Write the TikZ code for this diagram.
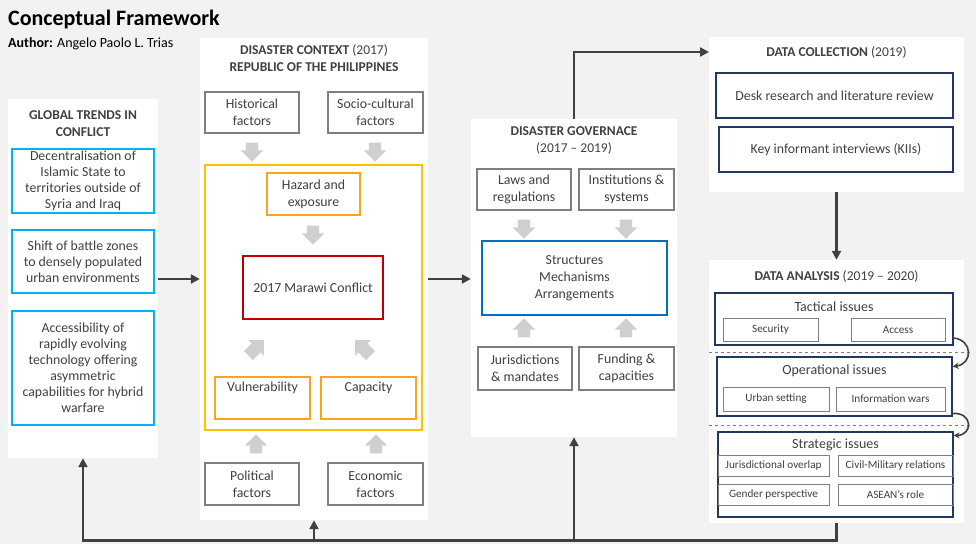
\documentclass[tikz,border=0pt]{standalone}
\usepackage{fontspec}
\setmainfont{Carlito}
\usepackage{tikz}
\usetikzlibrary{arrows.meta, positioning, shapes.arrows}
\definecolor{bgfill}{HTML}{F2F2F2}
\definecolor{txt}{HTML}{404040}
\definecolor{cyanline}{HTML}{00B0F0}
\definecolor{greyline}{HTML}{7F7F7F}
\definecolor{yelline}{HTML}{FFC000}
\definecolor{orline}{HTML}{FFA31A}
\definecolor{redline}{HTML}{C00000}
\definecolor{blueline}{HTML}{0070C0}
\definecolor{navyline}{HTML}{1F3864}
\definecolor{blkarr}{HTML}{CFCFCF}
\definecolor{flowline}{HTML}{404040}
\tikzset{
  panel/.style  = {fill=white, draw=none, inner sep=0pt},
  ttl/.style    = {text=txt, align=center, inner sep=0pt, font=\fontsize{13.5}{17}\selectfont},
  gtbox/.style  = {draw=cyanline, line width=1.2pt, text=txt, align=center, inner sep=0pt,
                   minimum width=142pt, font=\fontsize{13.8}{16}\selectfont},
  fbox/.style   = {draw=greyline, line width=1.2pt, text=txt, align=center, inner sep=0pt,
                   minimum width=94pt, minimum height=41pt, font=\fontsize{13.8}{17}\selectfont},
  obox/.style   = {fbox, draw=orline},
  gbox/.style   = {draw=#1, line width=1.2pt, text=txt, align=center, inner sep=0pt,
                   font=\fontsize{13.8}{17}\selectfont},
  sbox/.style   = {draw=greyline, line width=1pt, text=txt, align=center, inner sep=0pt,
                   font=\fontsize{11.2}{13}\selectfont},
  sub/.style    = {text=txt, inner sep=0pt, font=\fontsize{14}{15}\selectfont},
  barrow/.style = {single arrow, fill=blkarr, draw=none, inner xsep=0pt, inner ysep=6pt,
                   minimum height=19pt, single arrow head extend=5pt, single arrow head indent=0pt},
  flow/.style   = {-{Triangle[length=9pt, width=9pt]}, draw=flowline, line width=2.6pt},
  curv/.style   = {-{Stealth[length=6pt, width=6pt]}, draw=flowline, line width=1.6pt},
  sep/.style    = {draw=greyline, dashed, line width=0.8pt}
}

\begin{document}
\begin{tikzpicture}[x=1pt, y=-1pt]
  \useasboundingbox[fill=bgfill] (0,0) rectangle (976,544);

  \node[anchor=west, inner sep=0pt, font=\fontsize{22}{26}\selectfont\bfseries] (title) at (8,20) {Conceptual Framework};
  \node[anchor=west, inner sep=0pt, font=\fontsize{14}{16}\selectfont] (author) at (8,44) {\textbf{Author:} Angelo Paolo L. Trias};

  % global trends
  \node[panel, minimum width=150pt, minimum height=359pt] (gtp) at (83,278.5) {};
  \node[ttl] (gtt) at (83,123.5) {\textbf{GLOBAL TRENDS IN}\\\textbf{CONFLICT}};
  \node[gtbox, minimum height=64pt] (g1) at (83,181) {Decentralisation of\\Islamic State to\\territories outside of\\Syria and Iraq};
  \node[gtbox, minimum height=63pt] (g2) at (83,261.5) {Shift of battle zones\\to densely populated\\urban environments};
  \node[gtbox, minimum height=114pt] (g3) at (83,368) {Accessibility of\\rapidly evolving\\technology offering\\asymmetric\\capabilities for hybrid\\warfare};

  % disaster context
  \node[panel, minimum width=228pt, minimum height=482pt] (ctx) at (314,279) {};
  \node[ttl] (ctxt) at (314,58.5) {\textbf{DISASTER CONTEXT} (2017)\\\textbf{REPUBLIC OF THE PHILIPPINES}};
  \node[fbox] (hist) at (252,112.5) {Historical\\factors};
  \node[fbox, minimum width=95pt] (soc) at (375.5,112.5) {Socio-cultural\\factors};
  \node[barrow, rotate=-90] (ah1) at (252,149) {};
  \node[barrow, rotate=-90] (ah2) at (375,149) {};
  \node[draw=yelline, line width=1.2pt, minimum width=217pt, minimum height=265pt] (core) at (313.5,297.5) {};
  \node[obox, minimum width=93pt, minimum height=42pt] (haz) at (313.5,194) {Hazard and\\exposure};
  \node[barrow, rotate=-90] (ah3) at (313,232) {};
  \node[gbox=redline, minimum width=140pt, minimum height=63pt] (mar) at (313,287.5) {2017 Marawi Conflict};
  \node[barrow, rotate=45, minimum height=22pt] (ad1) at (254,350) {};
  \node[barrow, rotate=135, minimum height=22pt] (ad2) at (365,350) {};
  \node[obox, minimum width=95pt, minimum height=42pt] (vul) at (262.5,398) {Vulnerability\\\strut};
  \node[obox, minimum width=95pt, minimum height=42pt] (cap) at (368.5,398) {Capacity\\\strut};
  \node[barrow, rotate=90] (au1) at (256,447) {};
  \node[barrow, rotate=90] (au2) at (376,447) {};
  \node[fbox, minimum height=42pt] (pol) at (252,484) {Political\\factors};
  \node[fbox, minimum width=95pt, minimum height=42pt] (eco) at (375.5,484) {Economic\\factors};

  % disaster governance
  \node[panel, minimum width=206pt, minimum height=318pt] (gov) at (574,278) {};
  \node[ttl] (govt) at (574,140.5) {\textbf{DISASTER GOVERNACE}\\(2017 -- 2019)};
  \node[fbox] (laws) at (524,189.5) {Laws and\\regulations};
  \node[fbox, minimum width=95pt] (inst) at (626.5,189.5) {Institutions \&\\systems};
  \node[barrow, rotate=-90] (ag1) at (524,226) {};
  \node[barrow, rotate=-90] (ag2) at (626,226) {};
  \node[gbox=blueline, minimum width=185pt, minimum height=74pt] (stru) at (574.5,278) {Structures\\Mechanisms\\Arrangements};
  \node[barrow, rotate=90] (ag3) at (524,331) {};
  \node[barrow, rotate=90] (ag4) at (626,331) {};
  \node[fbox, minimum height=43pt] (jur) at (525,368.5) {Jurisdictions\\\& mandates};
  \node[fbox, minimum width=95pt, minimum height=43pt] (fund) at (626.5,368.5) {Funding \&\\capacities};

  % data collection
  \node[panel, minimum width=255pt, minimum height=155pt] (dc) at (836.5,114.5) {};
  \node[ttl] (dct) at (836.5,52) {\textbf{DATA COLLECTION} (2019)};
  \node[gbox=navyline, minimum width=237pt, minimum height=45pt] (desk) at (834.5,95.5) {Desk research and literature review};
  \node[gbox=navyline, minimum width=234pt, minimum height=45pt] (kii) at (836,149.5) {Key informant interviews (KIIs)};
  \coordinate (dcin) at (709,52);

  % data analysis
  \node[panel, minimum width=255pt, minimum height=263pt] (da) at (836.5,391.5) {};
  \node[ttl] (dat) at (836.5,276) {\textbf{DATA ANALYSIS} (2019 -- 2020)};
  \node[gbox=navyline, minimum width=238pt, minimum height=52pt] (tac) at (834,319) {};
  \node[sub] (tact) at (834,307) {Tactical issues};
  \node[sbox, minimum width=95pt, minimum height=23pt] (secu) at (770.5,329.5) {Security};
  \node[sbox, minimum width=94pt, minimum height=23pt] (acce) at (898,329.5) {Access};
  \node[gbox=navyline, minimum width=235pt, minimum height=59pt] (op) at (834.5,386.5) {};
  \node[sub] (opt) at (834.5,371) {Operational issues};
  \node[sbox, minimum width=106pt, minimum height=24pt] (urb) at (776,399) {Urban setting};
  \node[sbox, minimum width=109pt, minimum height=24pt] (info) at (890.5,399) {Information wars};
  \node[gbox=navyline, minimum width=235pt, minimum height=85pt] (str) at (835.5,474.5) {};
  \node[sub] (strt) at (835.5,445) {Strategic issues};
  \node[sbox, minimum width=111pt, minimum height=21pt] (jov) at (773.5,465.5) {Jurisdictional overlap};
  \node[sbox, minimum width=115pt, minimum height=21pt] (civ) at (895.5,465.5) {Civil-Military relations};
  \node[sbox, minimum width=111pt, minimum height=21pt] (gen) at (773.5,494.5) {Gender perspective};
  \node[sbox, minimum width=115pt, minimum height=21pt] (ase) at (895.5,494.5) {ASEAN’s role};
  \draw[sep] (da.west |- 0,352) -- (970,352);
  \draw[sep] (da.west |- 0,425) -- (970,425);

  % connectors
  \draw[flow] (gtp.east |- 0,279) -- (ctx.west |- 0,279);
  \draw[flow] (ctx.east |- 0,279) -- (gov.west |- 0,279);
  \draw[flow] (gov.north) |- (dcin);
  \draw[flow] (dc.south) -- (da.north);
  \draw[curv] ([yshift=-19pt]tac.east) .. controls (973,340) and (973,364) .. ([yshift=20pt]op.east);
  \draw[curv] ([yshift=-27pt]op.east) .. controls (973,412) and (973,435) .. ([yshift=39pt]str.east);
  \draw[flow] (da.south) -- ++(0,17) -| (gtp.south);
  \draw[flow] (da.south) -- ++(0,17) -| (ctx.south);
  \draw[flow] (da.south) -- ++(0,17) -| (gov.south);
\end{tikzpicture}
\end{document}
